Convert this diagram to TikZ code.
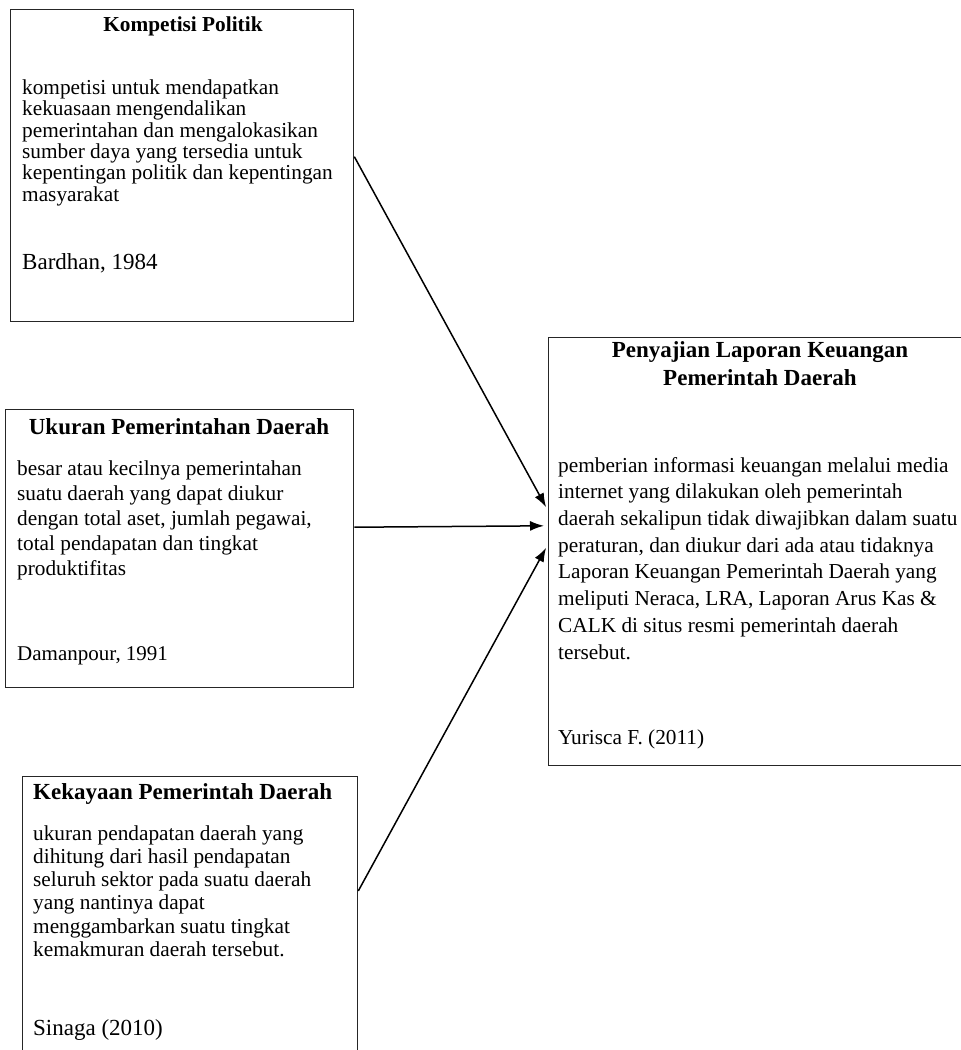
\documentclass[tikz,border=0pt]{standalone}
\usepackage{fontspec}
\setmainfont{Liberation Serif}
\usetikzlibrary{arrows.meta}

\tikzset{
  kotak/.style={draw=black!85, line width=1.3pt, anchor=north west, inner sep=0pt},
  judul/.style={font=\fontsize{23}{28}\selectfont\bfseries, inner sep=0pt, anchor=base, align=center},
  isi/.style={inner sep=0pt, anchor=base west, align=left},
  panah/.style={-{Latex[length=14pt,width=10pt]}, line width=1.5pt, shorten >=4pt},
}

\begin{document}
\begin{tikzpicture}[x=1pt, y=-1pt]
\useasboundingbox (0, 0) rectangle (961, 1050) ;
\node (kompetisi) at (10, 9) [kotak, minimum width=343pt, minimum height=312pt] {} ;
\node (ukuran) at (5, 409) [kotak, minimum width=348pt, minimum height=278pt] {} ;
\node (kekayaan) at (22, 776) [kotak, minimum width=335pt, minimum height=300pt] {} ;
\node (laporan) at (548, 337) [kotak, minimum width=420pt, minimum height=428pt] {} ;

\node (j1) at (183, 31) [judul, font=\fontsize{21.3}{24}\selectfont\bfseries] {Kompetisi Politik} ;
\node (i1) at (22, 201) [isi, font=\fontsize{21.3}{21.3}\selectfont] {kompetisi untuk mendapatkan\\ kekuasaan mengendalikan\\ pemerintahan dan mengalokasikan\\ sumber daya yang tersedia untuk\\ kepentingan politik dan kepentingan\\ masyarakat} ;
\node (s1) at (22, 269) [isi, font=\fontsize{23}{25}\selectfont] {Bardhan, 1984} ;

\node (j2) at (179, 434) [judul] {Ukuran Pemerintahan Daerah} ;
\node (i2) at (17, 575) [isi, font=\fontsize{21.3}{25}\selectfont] {besar atau kecilnya pemerintahan\\ suatu daerah yang dapat diukur\\ dengan total aset, jumlah pegawai,\\ total pendapatan dan tingkat\\ produktifitas} ;
\node (s2) at (17, 660) [isi, font=\fontsize{21}{25}\selectfont] {Damanpour, 1991} ;

\node (j3) at (33, 799) [judul, anchor=base west] {Kekayaan Pemerintah Daerah} ;
\node (i3) at (33, 956.5) [isi, font=\fontsize{21.3}{23.3}\selectfont] {ukuran pendapatan daerah yang\\ dihitung dari hasil pendapatan\\ seluruh sektor pada suatu daerah\\ yang nantinya dapat\\ menggambarkan suatu tingkat\\ kemakmuran daerah tersebut.} ;
\node (s3) at (33, 1035) [isi, font=\fontsize{23}{25}\selectfont] {Sinaga (2010)} ;

\node (j4) at (760, 385) [judul] {Penyajian Laporan Keuangan\\ Pemerintah Daerah} ;
\node (i4) at (558, 659) [isi, font=\fontsize{21.3}{26.7}\selectfont] {pemberian informasi keuangan melalui media\\ internet yang dilakukan oleh pemerintah\\ daerah sekalipun tidak diwajibkan dalam suatu\\ peraturan, dan diukur dari ada atau tidaknya\\ Laporan Keuangan Pemerintah Daerah yang\\ meliputi Neraca, LRA, Laporan Arus Kas \&\\ CALK di situs resmi pemerintah daerah\\ tersebut.} ;
\node (s4) at (558, 744) [isi, font=\fontsize{21.3}{25}\selectfont] {Yurisca F. (2011)} ;

\draw [panah] (kompetisi.3) -- (laporan.169) ;
\draw [panah] (ukuran.7.5) -- (laporan.173) ;
\draw [panah] (kekayaan.12) -- (laporan.178) ;
\end{tikzpicture}
\end{document}
